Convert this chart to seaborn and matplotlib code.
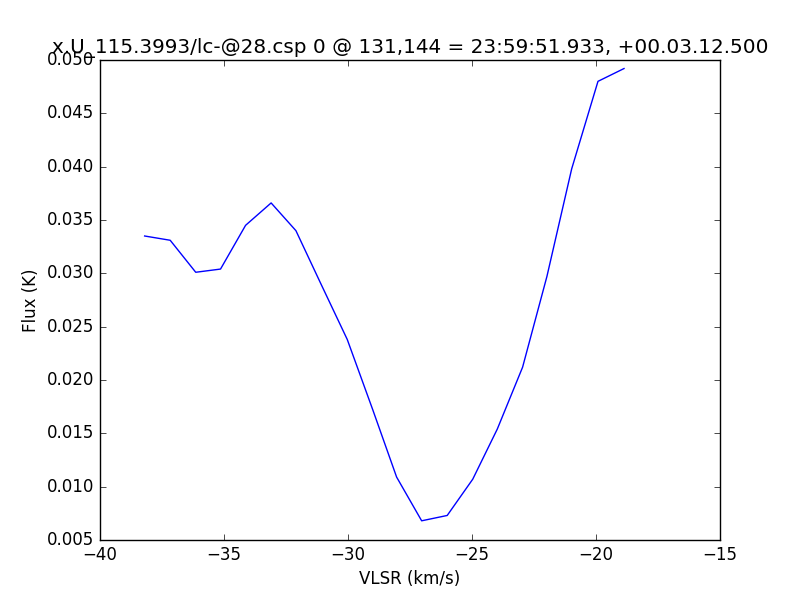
import pandas as pd
import matplotlib
matplotlib.use("Agg")
import matplotlib.pyplot as plt
from matplotlib.ticker import MultipleLocator, FormatStrFormatter
import seaborn as sns

# Spectrum values
vlsr = [-38.20, -37.17, -36.14, -35.14, -34.13, -33.10, -32.10, -31.09, -30.03, -29.00,
        -28.04, -27.03, -26.00, -24.97, -23.98, -22.96, -21.98, -20.98, -19.92, -18.87]
flux = [0.0335, 0.0331, 0.0301, 0.0304, 0.0345, 0.0366, 0.0340, 0.0290, 0.0238, 0.0172,
        0.0109, 0.0068, 0.0073, 0.0107, 0.0154, 0.0212, 0.0297, 0.0398, 0.0480, 0.0492]

title = "x.U_115.3993/lc-@28.csp 0 @ 131,144 = 23:59:51.933, +00.03.12.500"

df = pd.DataFrame({"vlsr": vlsr, "flux": flux})

plt.style.use("classic")
fig, ax = plt.subplots(figsize=(8, 6), dpi=100)
sns.lineplot(data=df, x="vlsr", y="flux", color="blue", linewidth=1,
             sort=False, estimator=None, ax=ax)

ax.set_xlim(-40, -15)
ax.set_ylim(0.005, 0.050)
ax.yaxis.set_major_locator(MultipleLocator(0.005))
ax.yaxis.set_major_formatter(FormatStrFormatter("%.3f"))
ax.set_xlabel("VLSR (km/s)")
ax.set_ylabel("Flux (K)")
ax.set_title(title)

fig.savefig("out.png", dpi=100)
